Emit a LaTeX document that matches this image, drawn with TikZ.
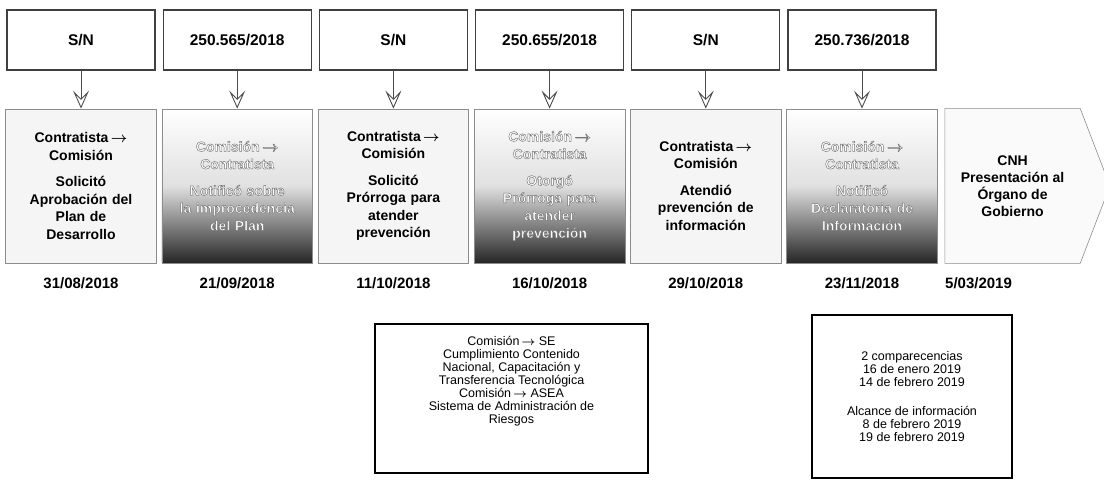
\documentclass[tikz,border=0pt]{standalone}
\usepackage{amsmath}
\usepackage{fontspec}
\setmainfont{Liberation Sans}
\usetikzlibrary{arrows.meta,positioning,shapes.symbols}
% outlined (white, grey stroked) text for the Comision -> Contratista steps
\newcommand{\hollowon}{\special{pdf:literal direct 2 Tr 0.45 w 1 g 0.45 G}}
\newcommand{\hollowoff}{\special{pdf:literal direct 0 Tr 0 g 0 G}}
\newcommand{\toarr}{\,$\boldsymbol{\rightarrow}$}

\begin{document}
\begin{tikzpicture}[x=1pt,y=-1pt,node distance=38pt and 7pt,
  refbox/.style={draw=black!75,line width=1.2pt,fill=white,minimum width=148pt,minimum height=60pt,font=\bfseries\fontsize{15.5}{18}\selectfont},
  stage/.style={draw=black!45,line width=0.6pt,fill=black!4,minimum width=148pt,minimum height=154pt,align=center,text width=144pt,font=\bfseries\fontsize{14}{17.5}\selectfont},
  shaded/.style={stage,top color=white,bottom color=black!85,middle color=black!12},
  cnhstage/.style={draw=black!45,line width=0.6pt,fill=black!2,signal,signal to=east,signal pointer angle=138,minimum width=165pt,minimum height=155pt,align=center,font=\bfseries\fontsize{14}{17}\selectfont},
  datelbl/.style={font=\bfseries\fontsize{15}{17}\selectfont},
  note/.style={draw=black,line width=1.1pt},
  notetext/.style={align=center,font=\fontsize{12.5}{13}\selectfont},
  arr/.style={-{Stealth[open,length=18pt,width=16pt,inset=8pt]},line width=0.9pt,draw=black!70}]
\useasboundingbox (0,0) rectangle (1104,480);
% oficios
\node[refbox] (ref1) at (81,40) {S/N};
\node[refbox,right=of ref1] (ref2) {250.565/2018};
\node[refbox,right=of ref2] (ref3) {S/N};
\node[refbox,right=of ref3] (ref4) {250.655/2018};
\node[refbox,right=of ref4] (ref5) {S/N};
\node[refbox,right=of ref5] (ref6) {250.736/2018};
% etapas
\node[stage,below=of ref1] (st1) {Contratista\toarr\\Comisión\\[9pt]Solicitó\\Aprobación del\\Plan de\\Desarrollo};
\node[shaded,below=of ref2] (st2) {\hollowon Comisión\toarr\\Contratista\\[9pt]Notificó sobre\\la improcedencia\\del Plan\hollowoff};
\node[stage,below=of ref3] (st3) {Contratista\toarr\\Comisión\\[9pt]Solicitó\\Prórroga para\\atender\\prevención};
\node[shaded,below=of ref4] (st4) {\hollowon Comisión\toarr\\Contratista\\[9pt]Otorgó\\Prórroga para\\atender\\prevención\hollowoff};
\node[stage,below=of ref5] (st5) {Contratista\toarr\\Comisión\\[9pt]Atendió\\prevención de\\información};
\node[shaded,below=of ref6] (st6) {\hollowon Comisión\toarr\\Contratista\\[9pt]Notificó\\Declaratoria de\\Información\hollowoff};
\node[cnhstage,right=of st6] (cnh) {CNH\\Presentación al\\Órgano de\\Gobierno};
\foreach \i in {1,...,6} \draw[arr] (ref\i) -- (st\i);
% fechas
\node[datelbl,below=11pt of st1] (d1) {31/08/2018};
\node[datelbl,below=11pt of st2] (d2) {21/09/2018};
\node[datelbl,below=11pt of st3] (d3) {11/10/2018};
\node[datelbl,below=11pt of st4] (d4) {16/10/2018};
\node[datelbl,below=11pt of st5] (d5) {29/10/2018};
\node[datelbl,below=11pt of st6] (d6) {23/11/2018};
\node[datelbl,below=10pt of cnh,xshift=-34pt] (d7) {5/03/2019};
% notas
\node[note,minimum width=273pt,minimum height=149pt] (scope) at (511.5,398.5) {};
\node[notetext,below=9pt of scope.north] (scopetxt) {Comisión\toarr\ SE\\Cumplimiento Contenido\\Nacional, Capacitación y\\Transferencia Tecnológica\\Comisión\toarr\ ASEA\\Sistema de Administración de\\Riesgos};
\node[note,minimum width=200pt,minimum height=163pt] (hearings) at (912,396.5) {};
\node[notetext] (hearingstxt) at (hearings) {2 comparecencias\\16 de enero 2019\\14 de febrero 2019\\[16pt]Alcance de información\\8 de febrero 2019\\19 de febrero 2019};
\end{tikzpicture}
\end{document}
